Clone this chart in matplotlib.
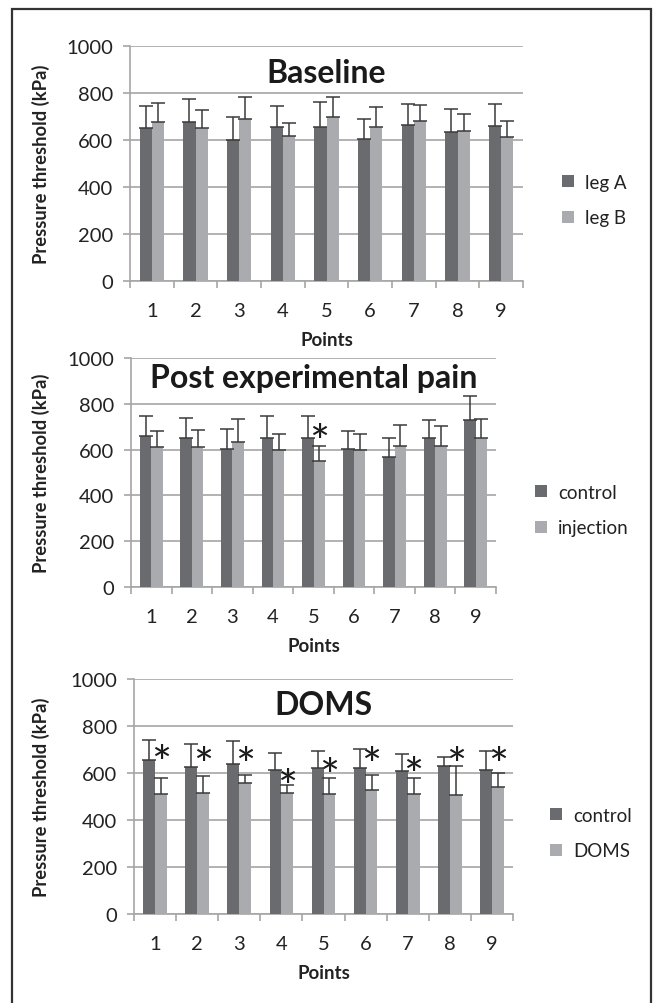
import numpy as np
import matplotlib.pyplot as plt
import matplotlib.patches as patches
import matplotlib.transforms as transforms

plt.rcParams['font.family'] = ['Lato', 'DejaVu Sans']

points = [1, 2, 3, 4, 5, 6, 7, 8, 9]

# Baseline
base_a = [651, 677, 602, 657, 654, 606, 664, 634, 661]
base_a_err = [94, 97, 95, 88, 107, 82, 90, 97, 91]
base_b = [677, 651, 688, 617, 696, 657, 681, 639, 614]
base_b_err = [80, 77, 97, 54, 86, 85, 69, 72, 66]

# Post experimental pain
post_ctrl = [659, 652, 604, 649, 649, 601, 569, 649, 731]
post_ctrl_err = [89, 85, 84, 98, 96, 80, 80, 82, 105]
post_inj = [613, 611, 635, 597, 550, 597, 617, 617, 649]
post_inj_err = [70, 73, 100, 71, 66, 70, 92, 88, 85]

# DOMS
doms_ctrl = [655, 624, 638, 611, 621, 621, 610, 630, 613]
doms_ctrl_err = [85, 99, 100, 73, 71, 83, 71, 40, 82]
doms_doms = [511, 516, 559, 513, 509, 528, 511, 506, 539]
doms_doms_err = [69, 73, 32, 36, 68, 63, 68, 122, 60]

post_star_at = [5]
post_star_y = [690]
doms_star_y = [695, 688, 688, 596, 641, 688, 645, 688, 688]

dark = '#6a6b6f'
light = '#a9abae'
grid_c = '#a6a6a6'
txt = '#222222'

fig = plt.figure(figsize=(6.57, 10.04), dpi=100)

# outer frame
fig.patches.append(patches.Rectangle((12 / 657, -0.02), 639 / 657, 1.01,
                                     transform=fig.transFigure, fill=False,
                                     edgecolor='#333333', linewidth=1.6))


def panel(rect, title, title_y, s1, e1, s2, e2, labels, leg_pos):
    ax = fig.add_axes(rect)
    x = np.array(points)
    w = 0.28
    zeros = np.zeros(len(points))
    ax.bar(x - w / 2, s1, w, color=dark, label=labels[0], zorder=3)
    ax.bar(x + w / 2, s2, w, color=light, label=labels[1], zorder=3)
    ax.errorbar(x - w / 2, s1, yerr=[zeros, e1], fmt='none', ecolor='#3a3a3a',
                elinewidth=1.1, capsize=5, capthick=1.1, zorder=4)
    ax.errorbar(x + w / 2, s2, yerr=[zeros, e2], fmt='none', ecolor='#3a3a3a',
                elinewidth=1.1, capsize=5, capthick=1.1, zorder=4)
    ax.set_xlim(0.5, 9.5)
    ax.set_ylim(0, 1000)
    ax.set_yticks(range(0, 1001, 200))
    ax.set_xticks(points)
    ax.set_xticks(np.arange(0.5, 10, 1), minor=True)
    ax.tick_params(axis='x', which='major', length=0, pad=15, labelsize=14.5, labelcolor=txt)
    ax.tick_params(axis='x', which='minor', length=5, color=grid_c, width=1.2)
    ax.tick_params(axis='y', length=5, color=grid_c, width=1.2, pad=7, labelsize=14.5, labelcolor=txt)
    ax.grid(axis='y', color=grid_c, linewidth=1.2, zorder=0)
    for s in ['top', 'right']:
        ax.spines[s].set_visible(False)
    for s in ['left', 'bottom']:
        ax.spines[s].set_color(grid_c)
        ax.spines[s].set_linewidth(1.2)
    ax.text(5, title_y, title, ha='center', va='baseline', fontsize=23,
            fontweight='bold', color='#1a1a1a')
    ax.set_xlabel('Points', fontsize=13.5, fontweight='bold', color=txt, labelpad=9)
    ax.set_ylabel('Pressure threshold (kPa)', fontsize=13.2, fontweight='bold', color=txt)
    ax.yaxis.set_label_coords(50 / 657, 0.5,
                              transform=transforms.blended_transform_factory(fig.transFigure, ax.transAxes))
    ax.legend(loc='center left', bbox_to_anchor=leg_pos, bbox_transform=fig.transFigure,
              frameon=False, fontsize=13.5, handlelength=0.65, handleheight=0.65,
              handletextpad=0.6, labelspacing=1.0, labelcolor=txt)
    return ax


ax1 = panel([130 / 657, 1 - 282 / 1004, 393 / 657, 235 / 1004], 'Baseline', 845,
            base_a, base_a_err, base_b, base_b_err, ['leg A', 'leg B'],
            (545 / 657, 1 - 201 / 1004))

ax2 = panel([131 / 657, 1 - 588 / 1004, 365 / 657, 229 / 1004], 'Post experimental pain', 872,
            post_ctrl, post_ctrl_err, post_inj, post_inj_err, ['control', 'injection'],
            (518 / 657, 1 - 511 / 1004))
for p, sy in zip(post_star_at, post_star_y):
    ax2.annotate('*', xy=(p + 0.14, sy), xytext=(0, -20), textcoords='offset points',
                 ha='center', va='baseline', fontsize=34, color='#1a1a1a')

ax3 = panel([134 / 657, 1 - 915 / 1004, 379 / 657, 235 / 1004], 'DOMS', 851,
            doms_ctrl, doms_ctrl_err, doms_doms, doms_doms_err, ['control', 'DOMS'],
            (533 / 657, 1 - 834 / 1004))
for p, sy in zip(points, doms_star_y):
    ax3.annotate('*', xy=(p + 0.14, sy), xytext=(0, -20), textcoords='offset points',
                 ha='center', va='baseline', fontsize=34, color='#1a1a1a')

fig.savefig('out.png', dpi=100)
